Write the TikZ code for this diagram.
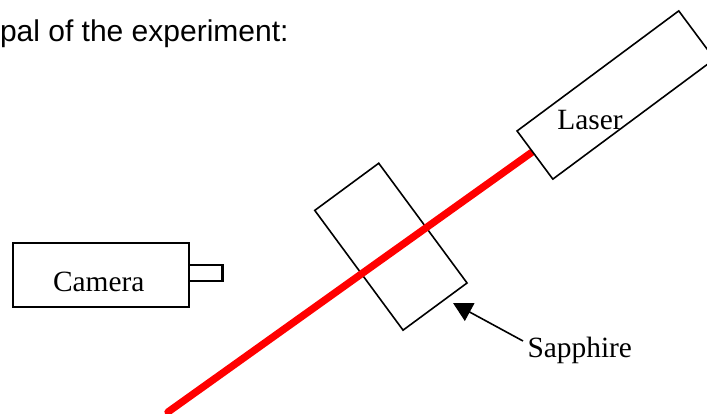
\documentclass[tikz,border=0pt]{standalone}
\usepackage{fontspec}
\setmainfont{Liberation Serif}
\newfontfamily\capsans{Liberation Sans}
\usetikzlibrary{arrows.meta}
\tikzset{
  box/.style={draw=black,line width=1.6pt,fill=white,inner sep=0pt,outer sep=0pt},
  flat/.style={draw=black,line width=2.1pt,fill=white,inner sep=0pt,outer sep=0pt},
  lbl/.style={anchor=base west,inner sep=0pt,outer sep=0pt,text=black,font=\fontsize{29.4pt}{32pt}\selectfont},
  beam/.style={draw={rgb,255:red,255;green,0;blue,0},line width=7.3pt,line cap=round},
  pointer/.style={draw=black,line width=1.6pt,-{Triangle[length=19pt,width=20pt]}}
}
\begin{document}
\begin{tikzpicture}[x=1pt,y=-1pt]
\clip (0,0) rectangle (707,414);
\fill[white] (0,0) rectangle (707,414);
\node[lbl,font=\capsans\fontsize{30pt}{32pt}\selectfont] (title) at (0,42) {pal of the experiment:};
% sapphire plate
\node[box,rotate=-53.6,minimum width=148.8pt,minimum height=79.5pt] (plate) at (390.9,246.7) {};
% camera
\node[flat,minimum width=176.5pt,minimum height=64pt] (camera) at (100.9,275) {};
\node[flat,minimum width=33.5pt,minimum height=16.5pt] (lens) at (205.7,273) {};
% beam
\coordinate (beamend) at (168,412);
\coordinate (beamstart) at (531.5,152.5);
\draw[beam] (beamstart) -- (beamend);
% laser
\node[box,rotate=36.6,minimum width=201.4pt,minimum height=60pt] (laser) at (615.8,95) {};
\node[lbl] (lasertext) at (557.3,129.3) {Laser};
\node[lbl] (cameratext) at (53,291.5) {Camera};
\node[lbl] (sapphiretext) at (527.5,357.5) {Sapphire};
\coordinate (tip) at (453,303);
\coordinate (tail) at (523,341);
\draw[pointer] (tail) -- (tip);
\end{tikzpicture}
\end{document}
